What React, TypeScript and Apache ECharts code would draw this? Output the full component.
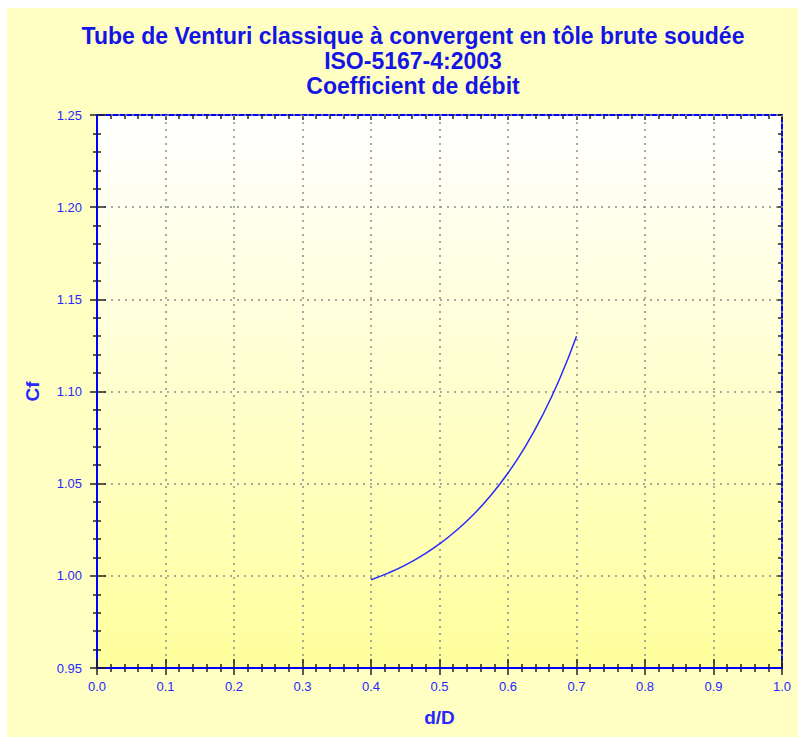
import React, { useEffect, useRef } from "react";
import * as echarts from "echarts";

const titleLines = [
  "Tube de Venturi classique à convergent en tôle brute soudée",
  "ISO-5167-4:2003",
  "Coefficient de débit",
];
const xName = "d/D";
const yName = "Cf";
const beta = [0.4, 0.425, 0.45, 0.475, 0.5, 0.525, 0.55, 0.575, 0.6, 0.625, 0.65, 0.675, 0.7];
const cf = [0.9979, 1.0015, 1.0058, 1.0111, 1.0173, 1.0247, 1.0334, 1.0437, 1.0558, 1.07, 1.0868, 1.1065, 1.13];
const xRange = [0, 1, 0.1];
const yRange = [0.95, 1.25, 0.05];

const BLUE = "#2828ff";
const TICK = "#222222";
const FONT = "Liberation Sans, Arial, sans-serif";

export default function App() {
  const ref = useRef<HTMLDivElement>(null);
  useEffect(() => {
    if (!ref.current) return;
    const chart = echarts.init(ref.current, null, { renderer: "svg" });
    const gridL = 90, gridT = 107, gridW = 685, gridH = 553;
    const tickStyle = { color: TICK, width: 1.5 };
    const baseX = (extra: any) => ({
      type: "value",
      min: xRange[0],
      max: xRange[1],
      interval: xRange[2],
      gridIndex: 0,
      ...extra,
    });
    const baseY = (extra: any) => ({
      type: "value",
      min: yRange[0],
      max: yRange[1],
      interval: yRange[2],
      gridIndex: 0,
      ...extra,
    });
    chart.setOption({
      animation: false,
      backgroundColor: "#ffffc4",
      title: {
        text: titleLines.join("\n"),
        left: 401,
        top: 10,
        textAlign: "center",
        textStyle: {
          color: "#1414e6",
          fontFamily: FONT,
          fontWeight: "bold",
          fontSize: 23,
          lineHeight: 25,
        },
      },
      grid: {
        left: gridL,
        top: gridT,
        width: gridW,
        height: gridH,
        show: true,
        borderWidth: 0,
        backgroundColor: new echarts.graphic.LinearGradient(0, 0, 0, 1, [
          { offset: 0, color: "#ffffff" },
          { offset: 1, color: "#ffff9c" },
        ]),
      },
      xAxis: [
        baseX({
          position: "bottom",
          name: xName,
          nameLocation: "middle",
          nameGap: 40,
          nameTextStyle: { color: BLUE, fontWeight: "bold", fontSize: 19, fontFamily: FONT },
          axisLine: { onZero: false, lineStyle: { color: "#0000ff", width: 2 } },
          axisTick: { show: true, inside: true, length: 9, lineStyle: tickStyle },
          minorTick: { show: true, splitNumber: 5, length: 4, lineStyle: tickStyle },
          axisLabel: {
            color: BLUE,
            fontSize: 13,
            margin: 12,
            fontFamily: FONT,
            formatter: (v: number) => v.toFixed(1),
          },
          splitLine: { show: true, lineStyle: { color: "#8c8c8c", type: [2, 5], width: 1.5 } },
          z: 5,
        }),
        baseX({
          position: "bottom",
          axisLine: { show: false, onZero: false },
          axisTick: { show: true, inside: false, length: 7, lineStyle: tickStyle },
          minorTick: { show: true, splitNumber: 5, length: 4, lineStyle: tickStyle },
          axisLabel: { show: false },
          splitLine: { show: false },
        }),
        baseX({
          position: "top",
          axisLine: { show: true, onZero: false, lineStyle: { color: "#0000ff", width: 2 } },
          axisTick: { show: true, inside: true, length: 5, lineStyle: tickStyle },
          minorTick: { show: true, splitNumber: 5, length: 4, lineStyle: tickStyle },
          axisLabel: { show: false },
          splitLine: { show: false },
        }),
      ],
      yAxis: [
        baseY({
          position: "left",
          name: yName,
          nameLocation: "middle",
          nameGap: 55,
          nameTextStyle: { color: BLUE, fontWeight: "bold", fontSize: 19, fontFamily: FONT },
          axisLine: { show: true, onZero: false, lineStyle: { color: "#0000ff", width: 2 } },
          axisTick: { show: true, inside: true, length: 9, lineStyle: tickStyle },
          minorTick: { show: true, splitNumber: 5, length: 4, lineStyle: tickStyle },
          axisLabel: {
            color: BLUE,
            fontSize: 13,
            margin: 15,
            fontFamily: FONT,
            formatter: (v: number) => v.toFixed(2),
          },
          splitLine: { show: true, lineStyle: { color: "#8c8c8c", type: [2, 5], width: 1.5 } },
          z: 5,
        }),
        baseY({
          position: "left",
          axisLine: { show: false, onZero: false },
          axisTick: { show: true, inside: false, length: 7, lineStyle: tickStyle },
          minorTick: { show: true, splitNumber: 5, length: 4, lineStyle: tickStyle },
          axisLabel: { show: false },
          splitLine: { show: false },
        }),
        baseY({
          position: "right",
          axisLine: { show: true, onZero: false, lineStyle: { color: "#0000ff", width: 2 } },
          axisTick: { show: true, inside: true, length: 5, lineStyle: tickStyle },
          minorTick: { show: true, splitNumber: 5, length: 4, lineStyle: tickStyle },
          axisLabel: { show: false },
          splitLine: { show: false },
        }),
      ],
      series: [
        {
          type: "line",
          xAxisIndex: 0,
          yAxisIndex: 0,
          data: beta.map((b, i) => [b, cf[i]]),
          smooth: true,
          showSymbol: false,
          lineStyle: { color: "#2a2aff", width: 1.5 },
          z: 10,
        },
      ],
    });
    return () => chart.dispose();
  }, []);
  return (
    <div
      ref={ref}
      style={{ position: "absolute", left: 7, top: 8, width: 791, height: 729 }}
    />
  );
}
